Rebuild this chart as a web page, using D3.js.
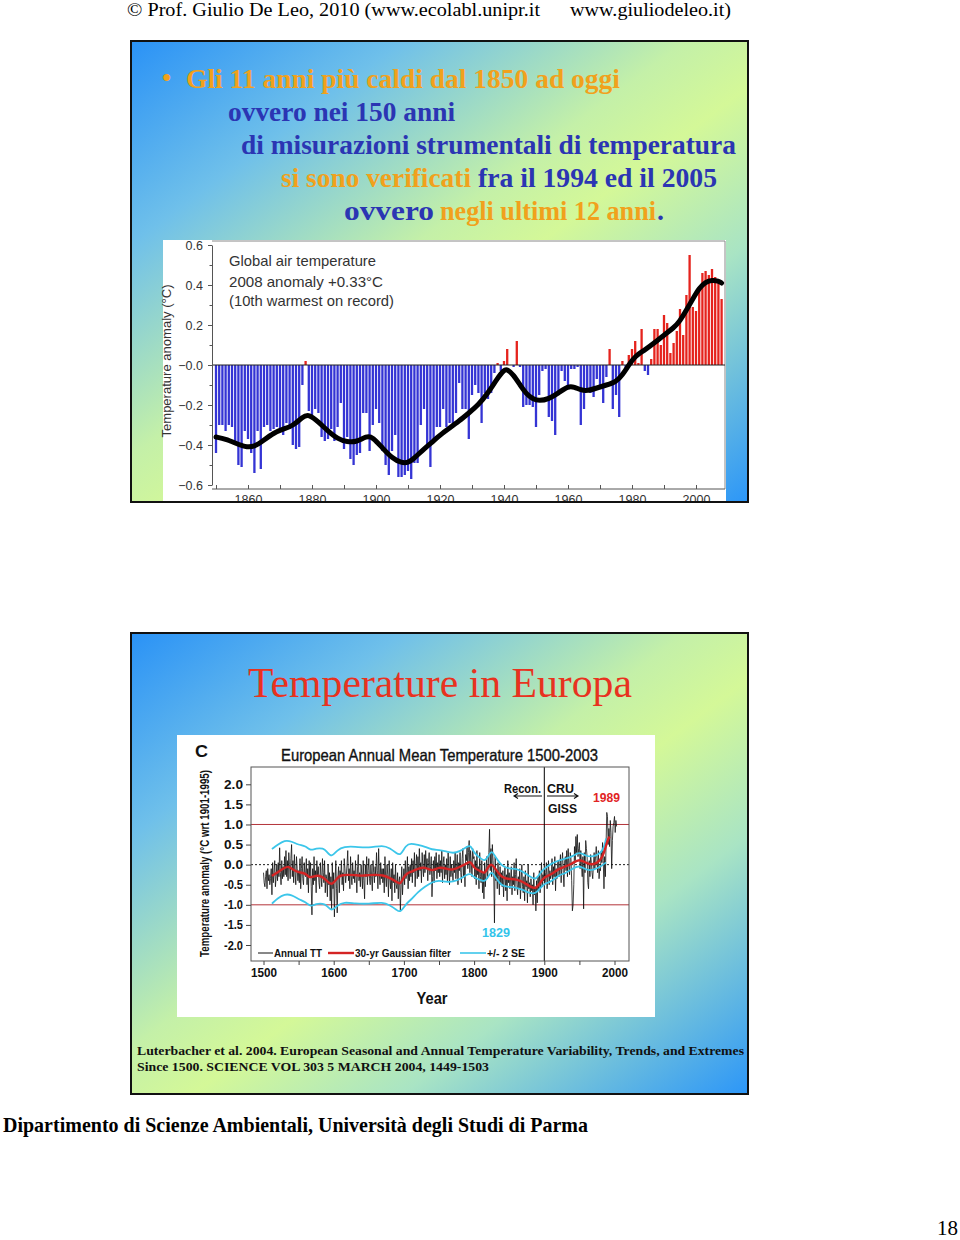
<!DOCTYPE html>
<html><head><meta charset="utf-8">
<script src="https://cdn.jsdelivr.net/npm/d3@7"></script>
<style>body{margin:0;background:#fff}svg{display:block}</style>
</head><body>
<svg id="c" width="960" height="1240"></svg>
<script>
// ---------- DATA: global air temperature (top chart) ----------
const globalStartYear = 1850;
const globalAnomaly = [
 -0.44,-0.30,-0.30,-0.33,-0.30,-0.31,-0.38,-0.50,-0.51,-0.33,
 -0.37,-0.44,-0.54,-0.33,-0.52,-0.31,-0.30,-0.33,-0.32,-0.31,
 -0.33,-0.35,-0.29,-0.32,-0.40,-0.42,-0.41,-0.10,0.02,-0.23,
 -0.25,-0.22,-0.24,-0.36,-0.38,-0.37,-0.32,-0.38,-0.31,-0.19,
 -0.42,-0.36,-0.47,-0.50,-0.45,-0.44,-0.24,-0.24,-0.43,-0.30,
 -0.22,-0.29,-0.43,-0.50,-0.55,-0.43,-0.35,-0.56,-0.56,-0.55,
 -0.53,-0.57,-0.49,-0.49,-0.30,-0.22,-0.40,-0.51,-0.37,-0.31,
 -0.31,-0.22,-0.31,-0.29,-0.31,-0.24,-0.09,-0.22,-0.22,-0.37,
 -0.15,-0.10,-0.14,-0.29,-0.14,-0.17,-0.14,-0.04,0.01,-0.03,
 0.02,0.08,0.00,-0.01,0.12,-0.01,-0.21,-0.20,-0.20,-0.21,
 -0.31,-0.15,-0.03,-0.02,-0.26,-0.28,-0.35,-0.13,-0.03,-0.08,
 -0.12,-0.02,-0.02,-0.01,-0.30,-0.22,-0.13,-0.14,-0.16,-0.07,
 -0.11,-0.19,-0.06,0.08,-0.22,-0.15,-0.26,0.02,-0.02,0.05,
 0.08,0.12,0.01,0.18,-0.03,-0.05,0.03,0.18,0.18,0.10,
 0.25,0.21,0.06,0.11,0.17,0.28,0.15,0.35,0.55,0.29,
 0.27,0.38,0.46,0.47,0.45,0.48,0.44,0.42,0.33
];
const smoothYears = [1850,1853,1856,1859,1862,1865,1868,1871,1874,1877,1879,1882,1885,1888,1891,1894,1897,1899,1902,1905,1908,1910,1912,1915,1918,1920,1923,1926,1929,1932,1935,1938,1940,1941,1943,1945,1947,1949,1951,1954,1957,1960,1962,1964,1966,1969,1972,1975,1977,1979,1981,1984,1987,1990,1993,1995,1997,1999,2001,2003,2005,2007,2008];
const smoothValues = [-0.36,-0.37,-0.39,-0.41,-0.41,-0.375,-0.34,-0.32,-0.305,-0.26,-0.245,-0.285,-0.33,-0.37,-0.385,-0.385,-0.355,-0.36,-0.415,-0.465,-0.49,-0.49,-0.465,-0.42,-0.38,-0.35,-0.315,-0.28,-0.24,-0.2,-0.14,-0.065,-0.025,-0.02,-0.05,-0.1,-0.145,-0.17,-0.18,-0.17,-0.14,-0.105,-0.11,-0.125,-0.13,-0.115,-0.1,-0.085,-0.05,0.0,0.045,0.075,0.11,0.15,0.185,0.22,0.275,0.33,0.385,0.415,0.425,0.42,0.41];
const globalYTicks = [-0.6,-0.4,-0.2,0,0.2,0.4,0.6];
const globalXTicks = [1860,1880,1900,1920,1940,1960,1980,2000];

// ---------- DATA: European annual mean temperature (bottom chart) ----------
const euroStartYear = 1500;
const euroAnnual = [
 -0.2,-0.45,-0.55,-0.3,-0.15,-0.6,-0.1,-0.4,-0.25,-0.5,
 -0.35,-0.1,-0.75,0.05,-0.45,-0.2,0.1,-0.55,-0.3,0.0,
 -0.4,0.05,-0.3,0.42,-0.2,-0.5,0.1,-0.35,-0.05,-0.3,
 0.2,-0.25,0.35,-0.3,0.1,-0.4,0.3,0.0,-0.35,0.15,
 0.5,-0.3,0.1,-0.45,0.25,-0.2,-0.5,0.2,-0.1,-0.4,
 -0.15,-0.45,0.15,-0.6,-0.1,0.2,-0.35,-0.5,0.05,-0.25,
 -0.3,0.15,-0.5,-0.1,-0.7,0.1,-0.3,0.05,-0.55,-1.25,
 -0.1,-0.5,0.2,-0.4,-0.15,-0.7,0.1,-0.3,-0.05,-0.45,
 -0.6,0.05,-0.3,-0.55,0.15,-0.2,-0.45,0.1,-0.7,-0.25,
 -0.35,-0.8,0.0,-0.5,-0.2,-0.9,-0.3,-1.1,0.05,-0.6,
 -0.2,-1.3,-0.45,0.1,-0.6,-1.2,-0.3,-0.05,-0.7,-0.15,
 -0.3,0.1,-0.5,-0.2,-0.65,0.15,-0.1,-0.45,-0.25,0.0,
 0.35,-0.4,-0.1,-0.6,0.2,-0.3,-0.5,0.05,-0.35,-0.15,
 -0.45,0.1,-0.3,-0.7,-0.05,0.25,-0.4,-0.2,-0.55,0.0,
 -0.25,-0.6,0.1,-0.4,-0.85,0.0,-0.3,0.2,-0.5,-0.15,
 0.15,-0.35,-0.5,0.0,-0.3,-0.65,0.1,-0.2,-0.45,-0.05,
 -0.3,0.3,-0.15,-0.6,0.4,-0.25,-0.5,0.05,-0.35,-0.1,
 -0.45,-0.1,-0.7,0.2,-0.3,-0.55,0.0,-0.25,-0.8,0.1,
 -0.35,-0.6,-0.1,-0.9,0.05,-0.45,-0.25,-0.7,0.0,-0.5,
 -0.6,-0.2,-0.85,-0.4,-0.3,-1.15,-0.5,-0.05,-0.75,-0.35,
 -0.1,-0.5,0.1,-0.35,-0.2,0.2,-0.6,-0.05,-0.4,0.0,
 -0.3,0.15,-0.45,0.1,-0.2,0.3,-0.55,-0.1,0.25,-0.35,
 0.2,-0.3,0.4,-0.15,0.05,-0.45,0.3,-0.05,-0.3,0.25,
 -0.2,0.35,-0.1,0.15,-0.4,0.05,0.3,-0.25,-0.05,0.2,
 -0.8,-0.3,0.1,-0.45,0.2,-0.15,0.3,-0.35,0.05,-0.2,
 0.25,-0.3,0.1,-0.2,0.35,-0.45,0.05,0.2,-0.35,0.0,
 -0.25,0.15,-0.4,0.3,-0.1,-0.5,0.2,-0.3,0.0,-0.2,
 -0.4,0.1,-0.2,0.3,-0.35,-0.05,0.25,-0.5,0.05,-0.15,
 0.3,-0.2,-0.45,0.15,0.4,-0.3,0.0,-0.55,0.25,0.1,
 0.45,-0.1,0.3,0.6,-0.2,0.35,0.05,-0.3,0.4,0.15,
 0.2,-0.35,0.1,-0.5,0.35,-0.25,-0.05,-0.6,0.3,-0.3,
 -0.45,0.1,-0.7,-0.2,-0.85,0.05,-0.55,-0.15,0.2,-0.35,
 -0.1,0.3,0.88,-0.15,0.4,-0.3,0.5,0.1,-0.25,-1.45,
 0.2,-0.4,-0.15,-0.6,0.05,-0.3,-0.75,-0.05,-0.5,-0.2,
 -0.55,-0.15,-0.8,-0.3,-0.05,-0.65,-0.25,-0.9,0.1,-0.45,
 -0.2,-0.6,-0.35,-0.05,-0.75,-0.3,-0.5,0.05,-0.65,-0.25,
 0.15,-0.5,-0.75,-0.3,-0.6,-0.1,-0.85,-0.4,0.0,-0.55,
 -0.7,-0.3,-0.9,-0.15,-0.55,-0.4,-0.95,0.0,-0.6,-0.45,
 -0.8,-0.35,-0.65,-0.5,-1.0,-0.2,-0.75,-0.55,-1.15,-0.4,
 -0.95,-0.3,-0.6,-0.15,-0.7,-0.45,0.05,-0.55,-0.25,-0.4,
 -0.1,-0.45,-0.2,0.05,-0.6,-0.3,0.1,-0.5,-0.15,-0.35,
 -0.25,0.15,-0.5,-0.05,-0.3,0.2,-0.65,-0.1,-0.35,0.05,
 0.1,-0.3,-0.05,0.25,-0.45,0.05,0.3,-0.2,-0.55,0.1,
 0.2,-0.15,0.35,-0.3,0.4,0.0,-0.25,0.3,0.15,-0.4,
 -1.15,-1.0,-0.5,0.45,0.1,0.7,0.3,0.75,0.2,0.4,
 0.55,-0.1,0.35,0.0,-0.3,0.2,-1.1,0.3,-0.2,0.6,
 0.4,0.2,-0.45,-0.6,0.1,-0.3,0.25,0.05,-0.2,-0.35,
 0.0,0.3,-0.1,0.2,0.45,0.15,-0.2,0.35,-0.35,-0.1,
 -0.15,0.3,0.05,0.55,0.1,-0.6,0.2,-0.3,0.5,1.3,
 1.2,0.5,0.9,0.45,1.1,0.8,-0.1,0.6,0.95,1.05,
 1.2,0.8,1.1,0.95
];
const gaussYears = [1512,1520,1530,1535,1540,1550,1560,1565,1570,1580,1590,1597,1605,1610,1620,1630,1640,1650,1660,1670,1680,1690,1695,1700,1705,1710,1720,1730,1740,1750,1760,1770,1780,1790,1795,1800,1810,1815,1820,1825,1830,1840,1850,1860,1870,1880,1888,1895,1900,1910,1920,1930,1940,1950,1960,1970,1980,1985,1990,1993];
const gaussValues = [-0.28,-0.19,-0.08,-0.04,-0.1,-0.2,-0.21,-0.33,-0.3,-0.25,-0.39,-0.53,-0.33,-0.26,-0.25,-0.26,-0.28,-0.26,-0.25,-0.26,-0.33,-0.43,-0.5,-0.3,-0.21,-0.18,-0.1,-0.05,-0.18,-0.05,-0.1,-0.14,-0.05,0.03,0.1,-0.1,-0.16,-0.24,-0.05,0.03,-0.1,-0.34,-0.36,-0.36,-0.43,-0.55,-0.61,-0.43,-0.3,-0.25,-0.1,-0.05,0.03,0.15,0.03,-0.01,0.1,0.28,0.61,0.7];
const seYears = [1512,1520,1530,1540,1550,1560,1567,1575,1585,1590,1597,1605,1615,1630,1650,1670,1680,1690,1695,1703,1710,1720,1730,1740,1750,1760,1770,1780,1790,1795,1800,1810,1815,1820,1825,1830,1840,1850,1860,1870,1880,1888,1895,1900,1910,1920,1930,1940,1950,1960,1970,1980,1985,1988];
const seUpper = [0.39,0.49,0.61,0.58,0.49,0.47,0.34,0.41,0.41,0.33,0.17,0.37,0.45,0.45,0.41,0.49,0.41,0.28,0.22,0.49,0.53,0.49,0.45,0.37,0.37,0.33,0.28,0.33,0.45,0.49,0.28,0.15,0.08,0.2,0.37,0.2,-0.05,-0.1,-0.1,-0.18,-0.3,-0.39,-0.18,-0.1,0.03,0.1,0.15,0.2,0.33,0.2,0.2,0.28,0.42,0.65];
const seLower = [-0.97,-0.84,-0.73,-0.75,-0.86,-0.93,-1.05,-0.97,-0.97,-1.01,-1.17,-1.01,-0.93,-0.97,-0.98,-0.93,-1.01,-1.13,-1.2,-0.97,-0.88,-0.68,-0.55,-0.43,-0.39,-0.43,-0.43,-0.36,-0.24,-0.22,-0.32,-0.39,-0.43,-0.3,-0.16,-0.3,-0.55,-0.55,-0.57,-0.63,-0.72,-0.72,-0.57,-0.47,-0.43,-0.26,-0.22,-0.1,-0.01,-0.14,-0.14,-0.05,0.02,0.05];
const euroYTicks = [-2,-1.5,-1,-0.5,0,0.5,1,1.5,2];
const euroXTicks = [1500,1550,1600,1650,1700,1750,1800,1850,1900,1950,2000];
const euroXLabels = [1500,1600,1700,1800,1900,2000];

// ---------- DRAWING ----------
const SERIF = "'Liberation Serif','Times New Roman',serif";
const SANS = "'Liberation Sans',Arial,sans-serif";
const svg = d3.select("#c");
svg.append("rect").attr("width",960).attr("height",1240).attr("fill","#fff");
const defs = svg.append("defs");
const grad = defs.append("linearGradient").attr("id","bg").attr("x1",0).attr("y1",0).attr("x2",1).attr("y2",1);
[[0,"#2a92f6"],[0.22,"#6fc0ea"],[0.45,"#c4f0a8"],[0.55,"#d4f898"],[0.72,"#a9e4c4"],[1,"#2c96f8"]]
  .forEach(([o,c])=>grad.append("stop").attr("offset",o).attr("stop-color",c));

function txt(g,x,y,s,o={}){
  const t=g.append("text").attr("x",x).attr("y",y)
    .attr("font-family",o.family||SERIF).attr("font-size",o.size||14)
    .attr("font-weight",o.weight||"normal").attr("fill",o.fill||"#000")
    .attr("text-anchor",o.anchor||"start");
  if(o.len){t.attr("textLength",o.len).attr("lengthAdjust","spacingAndGlyphs");}
  if(o.transform){t.attr("transform",o.transform);}
  if(o.stroke){t.attr("stroke",o.fill||"#000").attr("stroke-width",o.stroke);}
  t.text(s);
  return t;
}

// header
txt(svg,127,16,"© Prof. Giulio De Leo, 2010 (www.ecolabl.unipr.it",{size:19,len:413});
txt(svg,570,16,"www.giuliodeleo.it)",{size:19,len:161});

// ---------- top panel ----------
const P1={x:131,y:41,w:617,h:461};
defs.append("clipPath").attr("id","clip1").append("rect").attr("x",P1.x).attr("y",P1.y).attr("width",P1.w).attr("height",P1.h);
svg.append("rect").attr("x",P1.x).attr("y",P1.y).attr("width",P1.w).attr("height",P1.h).attr("fill","url(#bg)");
const topG=svg.append("g").attr("clip-path","url(#clip1)");
const ORANGE="#f1a11c", BLUE="#2b35b3";
const HB={size:28,weight:"bold"};
txt(topG,162,86,"•",{size:26,weight:"bold",fill:ORANGE});
txt(topG,186,88,"Gli 11 anni più caldi dal 1850 ad oggi",{...HB,fill:ORANGE,len:434});
txt(topG,228,121,"ovvero nei 150 anni",{...HB,fill:BLUE,len:227});
txt(topG,241,154,"di misurazioni strumentali di temperatura",{...HB,fill:BLUE,len:495});
txt(topG,281,187,"si sono verificati",{...HB,fill:ORANGE,len:190});
txt(topG,478,187,"fra il 1994 ed il 2005",{...HB,fill:BLUE,len:239});
txt(topG,344,220,"ovvero",{...HB,fill:BLUE,len:90});
txt(topG,440,220,"negli ultimi 12 anni",{...HB,fill:ORANGE,len:216});
txt(topG,657,220,".",{...HB,fill:BLUE});

// global chart
topG.append("rect").attr("x",163).attr("y",240).attr("width",563).attr("height",270).attr("fill","#fff");
const gx=d3.scaleLinear().domain([1850,2000]).range([216,696]);
const gy=d3.scaleLinear().domain([-0.6,0.6]).range([485,245]);
const plotL=212, plotR=725, plotT=241, plotB=489;
topG.append("path").attr("d",`M${plotL},${plotT}H${plotR}V${plotB}`).attr("fill","none").attr("stroke","#8a8a8a").attr("stroke-width",1);
const gData=globalAnomaly.map((v,i)=>({year:globalStartYear+i,v}));
topG.append("g").selectAll("rect").data(gData).join("rect")
  .attr("x",d=>gx(d.year)-1.15).attr("width",2.3)
  .attr("y",d=>d.v<0?gy(0):gy(d.v)).attr("height",d=>Math.abs(gy(d.v)-gy(0)))
  .attr("fill",d=>d.v<0?"#3434d4":"#e5231d");
topG.append("line").attr("x1",plotL).attr("x2",plotR).attr("y1",gy(0)).attr("y2",gy(0)).attr("stroke","#222").attr("stroke-width",1);
topG.append("path").datum(smoothYears.map((y,i)=>[y,smoothValues[i]]))
  .attr("d",d3.line().x(d=>gx(d[0])).y(d=>gy(d[1])).curve(d3.curveBasis))
  .attr("fill","none").attr("stroke","#000").attr("stroke-width",5).attr("stroke-linecap","round").attr("stroke-linejoin","round");
const gyAxis=topG.append("g").attr("transform",`translate(${plotL},0)`)
  .call(d3.axisLeft(gy).tickValues(globalYTicks).tickSize(4).tickPadding(5).tickSizeOuter(0)
   .tickFormat(d=>d<=0?"\u2212"+Math.abs(d).toFixed(1):d.toFixed(1)));
gyAxis.selectAll("text").attr("font-family",SANS).attr("font-size",12.5).attr("fill","#333");
gyAxis.selectAll("line,path").attr("stroke","#555");
topG.append("g").attr("transform",`translate(${plotL},0)`)
  .call(d3.axisLeft(gy).tickValues([-0.5,-0.3,-0.1,0.1,0.3,0.5]).tickSize(2.5).tickFormat("").tickSizeOuter(0))
  .call(g=>g.select(".domain").remove()).selectAll("line").attr("stroke","#555");
const gxAxis=topG.append("g").attr("transform",`translate(0,${plotB})`)
  .call(d3.axisBottom(gx).tickValues(globalXTicks).tickSize(-4).tickPadding(6).tickSizeOuter(0).tickFormat(d3.format("d")));
gxAxis.select(".domain").attr("d",`M${plotL},0H${plotR}`);
gxAxis.selectAll("text").attr("font-family",SANS).attr("font-size",12.5).attr("fill","#333");
gxAxis.selectAll("line,path").attr("stroke","#555");
topG.append("g").attr("transform",`translate(0,${plotB})`)
  .call(d3.axisBottom(gx).tickValues([1850,1870,1890,1910,1930,1950,1970,1990]).tickSize(-4).tickFormat("").tickSizeOuter(0))
  .call(g=>g.select(".domain").remove()).selectAll("line").attr("stroke","#555");
txt(topG,0,0,"Temperature anomaly (°C)",{family:SANS,size:12.5,fill:"#333",anchor:"middle",len:153,transform:"translate(171,361) rotate(-90)"});
txt(topG,229,266,"Global air temperature",{family:SANS,size:14.5,fill:"#333",len:147});
txt(topG,229,287,"2008 anomaly +0.33°C",{family:SANS,size:14.5,fill:"#333",len:154});
txt(topG,229,306,"(10th warmest on record)",{family:SANS,size:14.5,fill:"#333",len:165});
svg.append("rect").attr("x",P1.x).attr("y",P1.y).attr("width",P1.w).attr("height",P1.h).attr("fill","none").attr("stroke","#111").attr("stroke-width",2);

// ---------- bottom panel ----------
const P2={x:131,y:633,w:617,h:461};
svg.append("rect").attr("x",P2.x).attr("y",P2.y).attr("width",P2.w).attr("height",P2.h).attr("fill","url(#bg)");
const bot=svg.append("g");
txt(bot,248,697,"Temperature in Europa",{size:42,fill:"#e8321f",len:384});
bot.append("rect").attr("x",177).attr("y",735).attr("width",478).attr("height",282).attr("fill","#fff");
const ex=d3.scaleLinear().domain([1500,2000]).range([263.5,614.5]);
const ey=d3.scaleLinear().domain([-2,2]).range([945,784.3]);
const eL=251,eR=629,eT=767,eB=961;
[1,-1].forEach(v=>bot.append("line").attr("x1",eL).attr("x2",eR).attr("y1",ey(v)).attr("y2",ey(v)).attr("stroke","#b3343a").attr("stroke-width",1));
bot.append("line").attr("x1",eL).attr("x2",eR).attr("y1",ey(0)).attr("y2",ey(0)).attr("stroke","#000").attr("stroke-width",0.9).attr("stroke-dasharray","2,2");
bot.append("line").attr("x1",ex(1900)).attr("x2",ex(1900)).attr("y1",eT).attr("y2",eB).attr("stroke","#000").attr("stroke-width",1);
bot.append("path").datum(euroAnnual.map((v,i)=>[euroStartYear+i,v]))
  .attr("d",d3.line().x(d=>ex(d[0])).y(d=>ey(d[1])))
  .attr("fill","none").attr("stroke","#111").attr("stroke-width",0.8);
const sLine=d3.line().x(d=>ex(d[0])).y(d=>ey(d[1])).curve(d3.curveBasis);
bot.append("path").datum(seYears.map((y,i)=>[y,seUpper[i]])).attr("d",sLine).attr("fill","none").attr("stroke","#3cc6ea").attr("stroke-width",1.8);
bot.append("path").datum(seYears.map((y,i)=>[y,seLower[i]])).attr("d",sLine).attr("fill","none").attr("stroke","#3cc6ea").attr("stroke-width",1.8);
bot.append("path").datum(gaussYears.map((y,i)=>[y,gaussValues[i]])).attr("d",sLine).attr("fill","none").attr("stroke","#d42424").attr("stroke-width",2.4);
bot.append("rect").attr("x",eL).attr("y",eT).attr("width",eR-eL).attr("height",eB-eT).attr("fill","none").attr("stroke","#555").attr("stroke-width",1);
const eyAxis=bot.append("g").attr("transform",`translate(${eL},0)`)
  .call(d3.axisLeft(ey).tickValues(euroYTicks).tickSize(5).tickPadding(3).tickSizeOuter(0).tickFormat(d=>d.toFixed(1)));
eyAxis.select(".domain").remove();
eyAxis.selectAll("text").attr("font-family",SANS).attr("font-size",12.5).attr("font-weight","bold").attr("fill","#111").attr("textLength",19).attr("lengthAdjust","spacingAndGlyphs");
eyAxis.selectAll("line").attr("stroke","#444");
const exAxis=bot.append("g").attr("transform",`translate(0,${eB})`)
  .call(d3.axisBottom(ex).tickValues(euroXTicks).tickSize(4).tickPadding(3).tickSizeOuter(0).tickFormat(d=>euroXLabels.includes(d)?d:""));
exAxis.select(".domain").remove();
exAxis.selectAll("text").attr("font-family",SANS).attr("font-size",13).attr("font-weight","bold").attr("fill","#111");
exAxis.selectAll("text").filter(d=>euroXLabels.includes(d)).attr("textLength",26).attr("lengthAdjust","spacingAndGlyphs");
exAxis.selectAll("line").attr("stroke","#444");
txt(bot,432,1004,"Year",{family:SANS,size:17,weight:"bold",fill:"#111",anchor:"middle",len:31});
txt(bot,0,0,"Temperature anomaly (°C wrt 1901-1995)",{family:SANS,size:12.5,weight:"bold",fill:"#111",anchor:"middle",len:187,transform:"translate(208.5,863.5) rotate(-90)"});
txt(bot,195,757,"C",{family:SANS,size:17,weight:"bold",fill:"#111",len:13});
txt(bot,281,761,"European Annual Mean Temperature 1500-2003",{family:SANS,size:16.5,fill:"#111",len:317,stroke:0.35});
txt(bot,504,793,"Recon.",{family:SANS,size:12,weight:"bold",fill:"#111",len:37});
txt(bot,547,793,"CRU",{family:SANS,size:12,weight:"bold",fill:"#111",len:27});
txt(bot,548,813,"GISS",{family:SANS,size:12,weight:"bold",fill:"#111",len:29});
bot.append("path").attr("d","M542,796H514M518,793.5L514,796L518,798.5M547,796H578M574,793.5L578,796L574,798.5").attr("fill","none").attr("stroke","#111").attr("stroke-width",1.1);
txt(bot,593,802,"1989",{family:SANS,size:12.5,weight:"bold",fill:"#e12424",len:27});
txt(bot,482,937,"1829",{family:SANS,size:13,weight:"bold",fill:"#33c4ea",len:28});
bot.append("line").attr("x1",258).attr("x2",273).attr("y1",953).attr("y2",953).attr("stroke","#111").attr("stroke-width",1);
txt(bot,274,957,"Annual TT",{family:SANS,size:11,weight:"bold",fill:"#111",len:48});
bot.append("line").attr("x1",328).attr("x2",354).attr("y1",953).attr("y2",953).attr("stroke","#d42424").attr("stroke-width",2.4);
txt(bot,355,957,"30-yr Gaussian filter",{family:SANS,size:11,weight:"bold",fill:"#111",len:96});
bot.append("line").attr("x1",460).attr("x2",486).attr("y1",953).attr("y2",953).attr("stroke","#3cc6ea").attr("stroke-width",1.6);
txt(bot,487,957,"+/- 2 SE",{family:SANS,size:11,weight:"bold",fill:"#111",len:38});
txt(bot,137,1055,"Luterbacher et al. 2004. European Seasonal and Annual Temperature Variability, Trends, and Extremes",{size:13.5,weight:"bold",fill:"#111",len:607});
txt(bot,137,1071,"Since 1500. SCIENCE VOL 303 5 MARCH 2004, 1449-1503",{size:13.5,weight:"bold",fill:"#111",len:352});
svg.append("rect").attr("x",P2.x).attr("y",P2.y).attr("width",P2.w).attr("height",P2.h).attr("fill","none").attr("stroke","#111").attr("stroke-width",2);

// footer
txt(svg,3,1132,"Dipartimento di Scienze Ambientali, Università degli Studi di Parma",{size:21,weight:"bold",len:585});
txt(svg,937,1235,"18",{size:22,len:21});
</script></body></html>
